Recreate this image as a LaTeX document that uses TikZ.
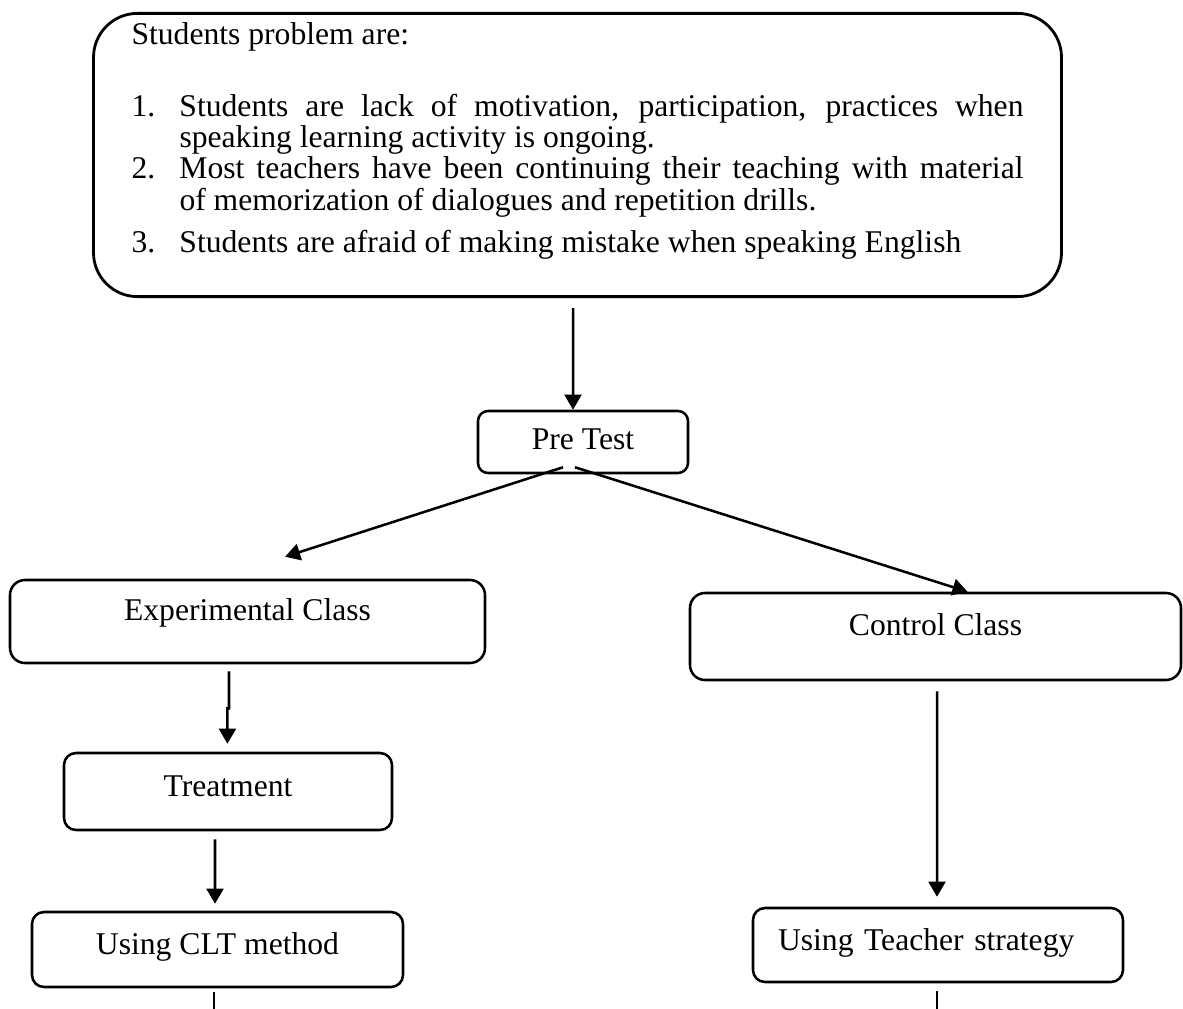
\documentclass[tikz,border=0pt]{standalone}
\usepackage{fontspec}
\setmainfont{Liberation Serif}
\usepackage{tikz}
\usetikzlibrary{shapes,arrows.meta}
\tikzset{bigbox/.style={draw,rounded corners=1.1cm,line width=2pt,inner xsep=0.95cm,inner ysep=0.24cm,font=\fontsize{22.5}{22.2}\selectfont}}
\tikzset{box/.style={draw,rounded corners=0.3cm,line width=1.8pt,inner sep=0pt,text height=0.55cm,text depth=0.28cm,font=\fontsize{22.5}{27}\selectfont}}
\tikzset{classbox/.style={box,rounded corners=0.375cm,text depth=0.58cm}}

\begin{document}
\begin{tikzpicture}[>={Triangle[length=0.375cm,width=0.42cm]},line width=1.8pt]
    \useasboundingbox (0,0) rectangle (29.575,-25.225);

    \node[bigbox] (prob)at (14.4375,-3.875) {\begin{minipage}[c][6.6cm][t]{22.3cm}
        \setlength{\parindent}{0pt}
        Students problem are:\par
        \vspace{1.01cm}
        \hangindent=1.2cm\hangafter=1 \makebox[1.2cm][l]{1.}Students are lack of motivation, participation, practices when\linebreak speaking learning activity is ongoing.\par
        \hangindent=1.2cm\hangafter=1 \makebox[1.2cm][l]{2.}Most teachers have been continuing their teaching with material\linebreak of memorization of dialogues and repetition drills.\par
        \vspace{0.275cm}
        \hangindent=1.2cm\hangafter=1 \makebox[1.2cm][l]{3.}Students are afraid of making mistake when speaking English\par
    \end{minipage}};
    \node[box,rounded corners=0.25cm,minimum width=5.25cm,minimum height=1.55cm,text depth=0.2cm] (pre)at (14.575,-11.05) {Pre Test};
    \node[classbox,minimum width=11.875cm,minimum height=2.075cm] (exp)at (6.1875,-15.5375) {Experimental Class};
    \node[classbox,minimum width=12.275cm,minimum height=2.175cm] (ctrl)at (23.3875,-15.9125) {Control Class};
    \node[box,minimum width=8.2cm,minimum height=1.925cm] (treat)at (5.7,-19.7875) {Treatment};
    \node[box,minimum width=9.275cm,minimum height=1.875cm] (clt)at (5.4375,-23.7375) {Using CLT method};
    \node[box,minimum width=9.25cm,minimum height=1.85cm,text width=8cm,inner xsep=0.625cm,align=left] (teach)at (23.45,-23.625) {Using Teacher strategy};
    \coordinate (cltend) at (5.35,-25.225);
    \coordinate (teachend) at (23.425,-25.225);

    \draw [->] ([xshift=-0.11cm,yshift=-0.25cm]prob.south) to [] ([xshift=-0.25cm]pre.north);
    \draw [->] ([xshift=-0.5cm,yshift=0.175cm]pre.south) to [] ([xshift=0.94cm,yshift=0.55cm]exp.north);
    \draw [->] ([xshift=-0.2cm,yshift=0.175cm]pre.south) to [] ([xshift=0.8cm]ctrl.north);
    \draw [->] ([xshift=-0.4625cm,yshift=-0.175cm]exp.south) -- ++(0,-0.925) -- ++(-0.04,0) to [] ([xshift=-0.015cm,yshift=0.2cm]treat.north);
    \draw [->] ([xshift=-0.325cm,yshift=-0.2cm]treat.south) to [] ([xshift=-0.0625cm,yshift=0.175cm]clt.north);
    \draw [->] ([xshift=0.04cm,yshift=-0.25cm]ctrl.south) to [] ([xshift=-0.025cm,yshift=0.25cm]teach.north);
    \draw [] ([xshift=-0.0875cm,yshift=-0.1cm]clt.south) to [] (cltend);
    \draw [] ([xshift=-0.025cm,yshift=-0.2cm]teach.south) to [] (teachend);
\end{tikzpicture}
\end{document}
